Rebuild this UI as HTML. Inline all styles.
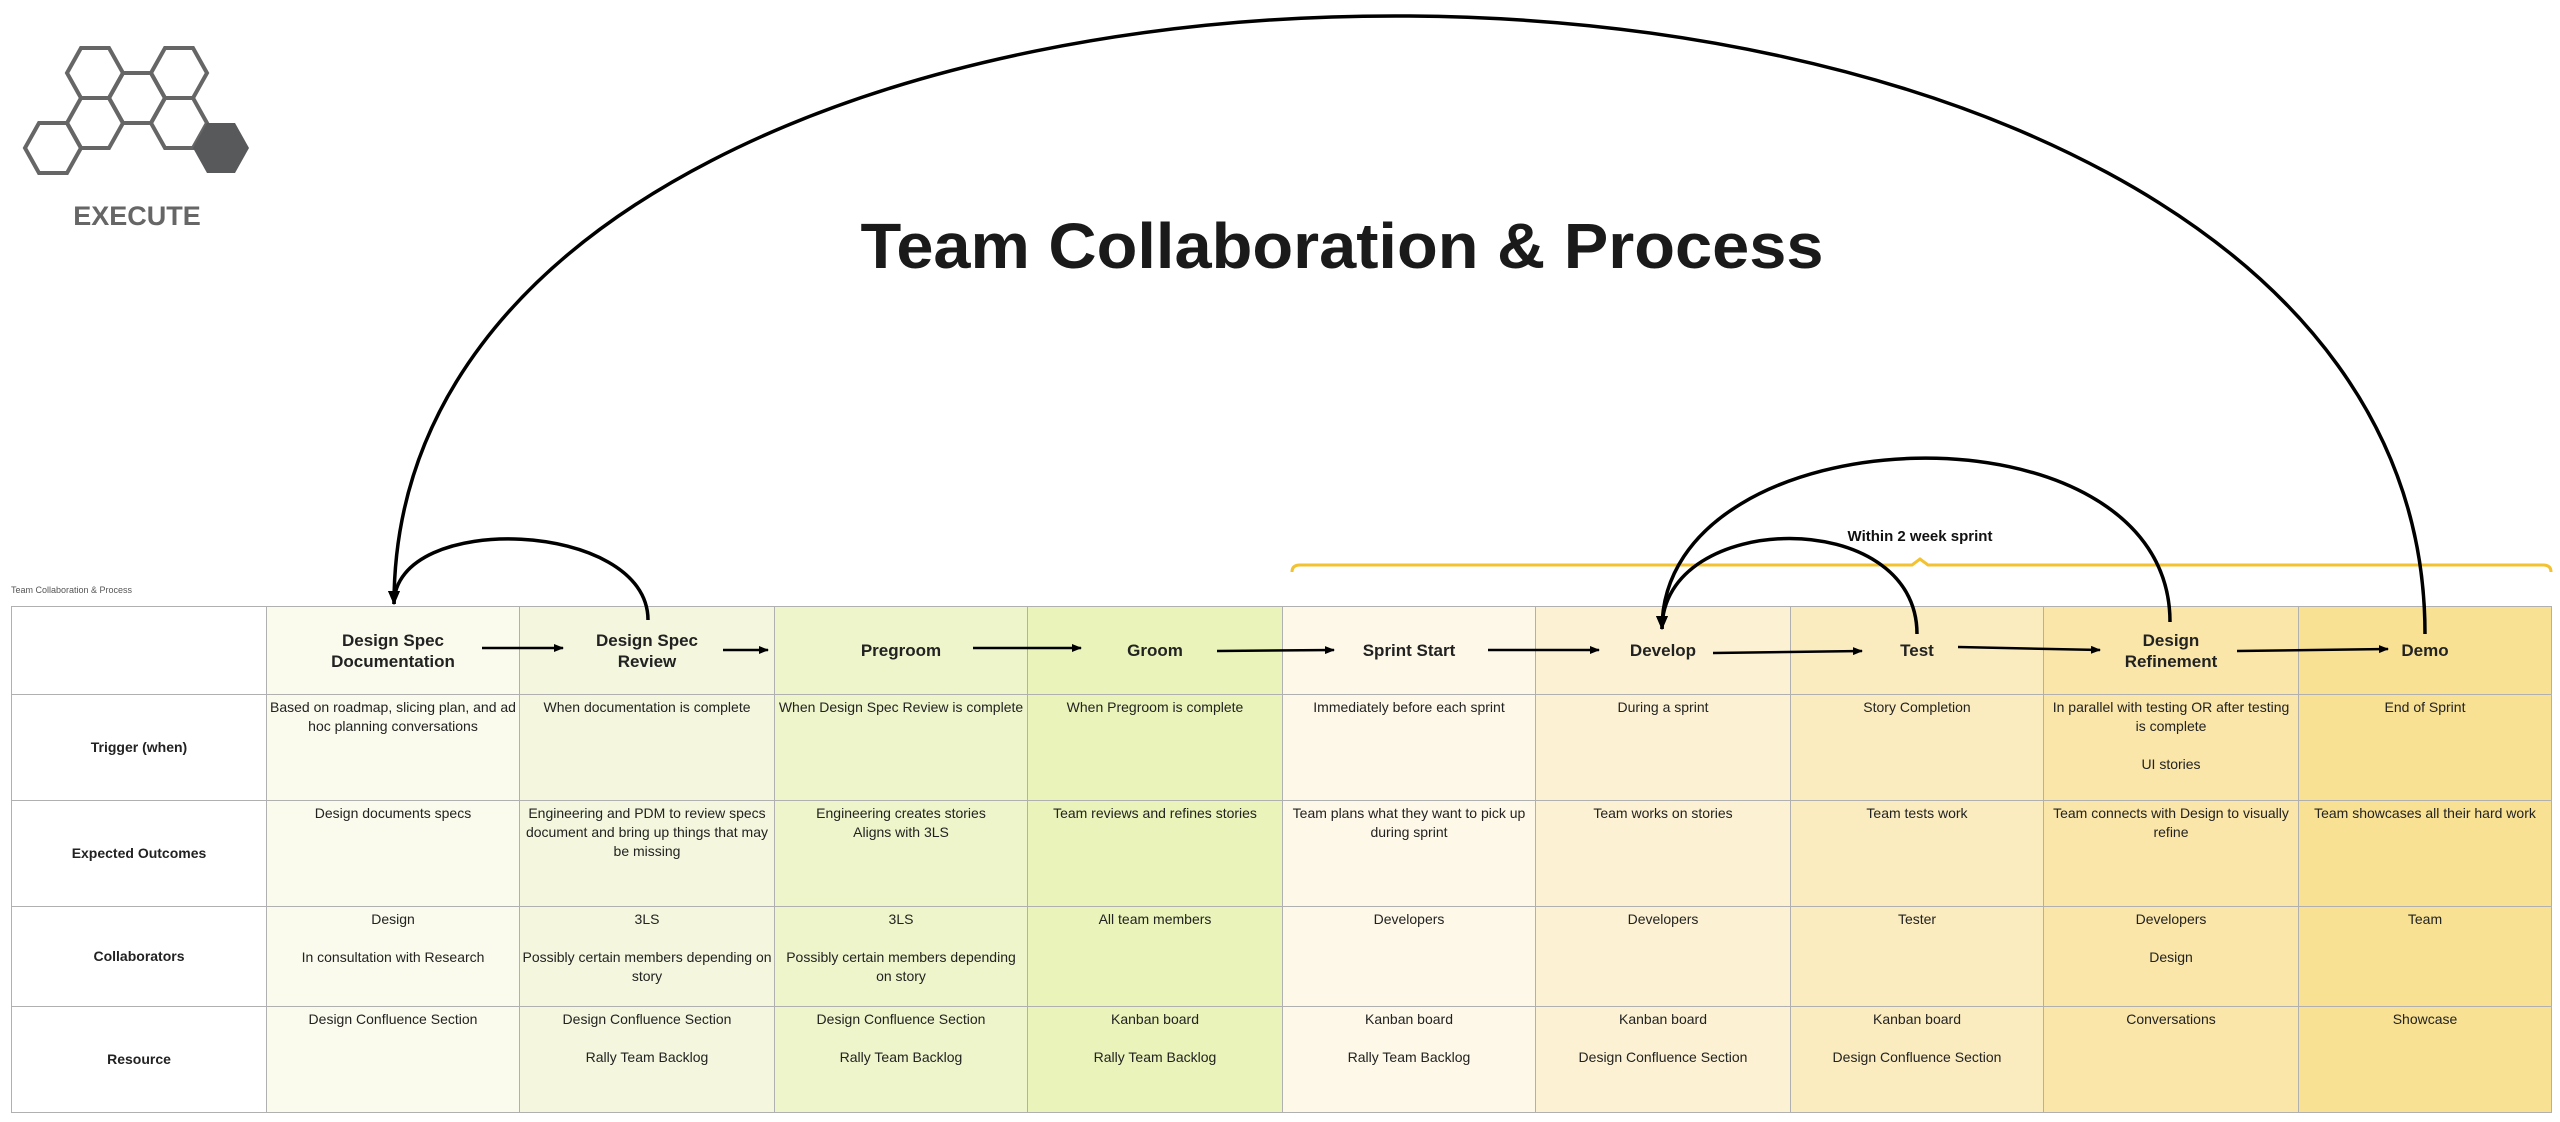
<!DOCTYPE html>
<html><head><meta charset="utf-8"><style>
body{margin:0;width:2560px;height:1122px;background:#fff;position:relative;overflow:hidden;font-family:"Liberation Sans",sans-serif;color:#222}
.c{position:absolute;box-sizing:border-box;border:1px solid #b0b0b0;text-align:center;font-size:14px;line-height:19px;padding:3px 2px 0}
.h{font-weight:bold;font-size:17px;line-height:21px;display:flex;align-items:center;justify-content:center;padding:0}
.l{font-weight:bold;font-size:14px;display:flex;align-items:center;justify-content:center;padding:0}
svg{position:absolute;left:0;top:0}
</style></head><body>
<div style="position:absolute;left:11px;top:585px;font-size:9px;color:#555">Team Collaboration &amp; Process</div>
<div id="t"></div>
<script>
var cols=[11,266,519,774,1027,1282,1535,1790,2043,2298,2551];
var rows=[606,694,800,906,1006,1112];
var bg=["#fff","#fafbec","#f4f7de","#eff5cb","#eaf3b9","#fdf8e7","#fcf2d3","#fbecbf","#fae6a9","#f8e193"];
var heads=["","Design Spec<br>Documentation","Design Spec<br>Review","Pregroom","Groom","Sprint Start","Develop","Test","Design<br>Refinement","Demo"];
var labels=["Trigger (when)","Expected Outcomes","Collaborators","Resource"];
var data=[
["Based on roadmap, slicing plan, and ad hoc planning conversations","When documentation is complete","When Design Spec Review is complete","When Pregroom is complete","Immediately before each sprint","During a sprint","Story Completion","In parallel with testing OR after testing is complete<br><br>UI stories","End of Sprint"],
["Design documents specs","Engineering and PDM to review specs document and bring up things that may be missing","Engineering creates stories<br>Aligns with 3LS","Team reviews and refines stories","Team plans what they want to pick up during sprint","Team works on stories","Team tests work","Team connects with Design to visually refine","Team showcases all their hard work"],
["Design<br><br>In consultation with Research","3LS<br><br>Possibly certain members depending on story","3LS<br><br>Possibly certain members depending on story","All team members","Developers","Developers","Tester","Developers<br><br>Design","Team"],
["Design Confluence Section","Design Confluence Section<br><br>Rally Team Backlog","Design Confluence Section<br><br>Rally Team Backlog","Kanban board<br><br>Rally Team Backlog","Kanban board<br><br>Rally Team Backlog","Kanban board<br><br>Design Confluence Section","Kanban board<br><br>Design Confluence Section","Conversations","Showcase"]];
var h="";
for(var r=0;r<5;r++)for(var c=0;c<10;c++){
 var x=cols[c],y=rows[r],w=cols[c+1]-x+1,hh=rows[r+1]-y+1;
 var cls="c",txt="";
 if(r==0){cls+=" h";txt=heads[c];}
 else if(c==0){cls+=" l";txt=labels[r-1];}
 else txt=data[r-1][c-1];
 h+='<div class="'+cls+'" style="left:'+x+'px;top:'+y+'px;width:'+w+'px;height:'+hh+'px;background:'+bg[c]+'">'+txt+'</div>';
}
document.getElementById("t").innerHTML=h;
</script>
<svg width="2560" height="1122" viewBox="0 0 2560 1122">
<defs><marker id="a" markerWidth="10" markerHeight="8" refX="9" refY="4" orient="auto" markerUnits="userSpaceOnUse"><path d="M0,0L10,4L0,8z" fill="#000"/></marker>
<marker id="b" markerWidth="14" markerHeight="12" refX="13" refY="6" orient="auto" markerUnits="userSpaceOnUse"><path d="M0,0L14,6L0,12z" fill="#000"/></marker>
<path id="hx" d="M-28,0L-14,-25L14,-25L28,0L14,25L-14,25Z"/></defs>
<g fill="none" stroke="#666" stroke-width="4">
<use href="#hx" x="53" y="148"/>
<use href="#hx" x="95" y="123"/>
<use href="#hx" x="95" y="73"/>
<use href="#hx" x="137" y="98"/>
<use href="#hx" x="179" y="73"/>
<use href="#hx" x="179" y="123"/>
</g>
<use href="#hx" x="221" y="148" fill="#58595b"/>
<text x="137" y="225" font-size="27" font-weight="bold" fill="#666" text-anchor="middle" font-family="Liberation Sans,sans-serif">EXECUTE</text>
<text x="1342" y="268" font-size="64" font-weight="bold" fill="#1a1a1a" text-anchor="middle" textLength="963" lengthAdjust="spacingAndGlyphs" font-family="Liberation Sans,sans-serif">Team Collaboration &amp; Process</text>
<text x="1920" y="541" font-size="15" font-weight="bold" fill="#111" text-anchor="middle" font-family="Liberation Sans,sans-serif">Within 2 week sprint</text>
<path d="M1292,572Q1292,565 1300,565L1912,565L1920,559L1928,565L2543,565Q2551,565 2551,572" fill="none" stroke="#f2c230" stroke-width="3"/>
<g stroke="#000" stroke-width="2.5" fill="none" marker-end="url(#a)">
<line x1="482" y1="648" x2="563" y2="648"/>
<line x1="723" y1="650" x2="768" y2="650"/>
<line x1="973" y1="648" x2="1081" y2="648"/>
<line x1="1217" y1="651" x2="1334" y2="650"/>
<line x1="1488" y1="650" x2="1599" y2="650"/>
<line x1="1713" y1="653" x2="1862" y2="651"/>
<line x1="1958" y1="647" x2="2100" y2="650"/>
<line x1="2237" y1="651" x2="2388" y2="649"/>
</g>
<g stroke="#000" stroke-width="3.5" fill="none" marker-end="url(#b)">
<path d="M648,620C648,520 394,510 394,604"/>
<path d="M2425,634C2425,-185 394,-185 394,604"/>
<path d="M2170,622C2170,395 1662,410 1662,629"/>
<path d="M1917,634C1917,505 1662,510 1662,629"/>
</g>
</svg>
</body></html>
